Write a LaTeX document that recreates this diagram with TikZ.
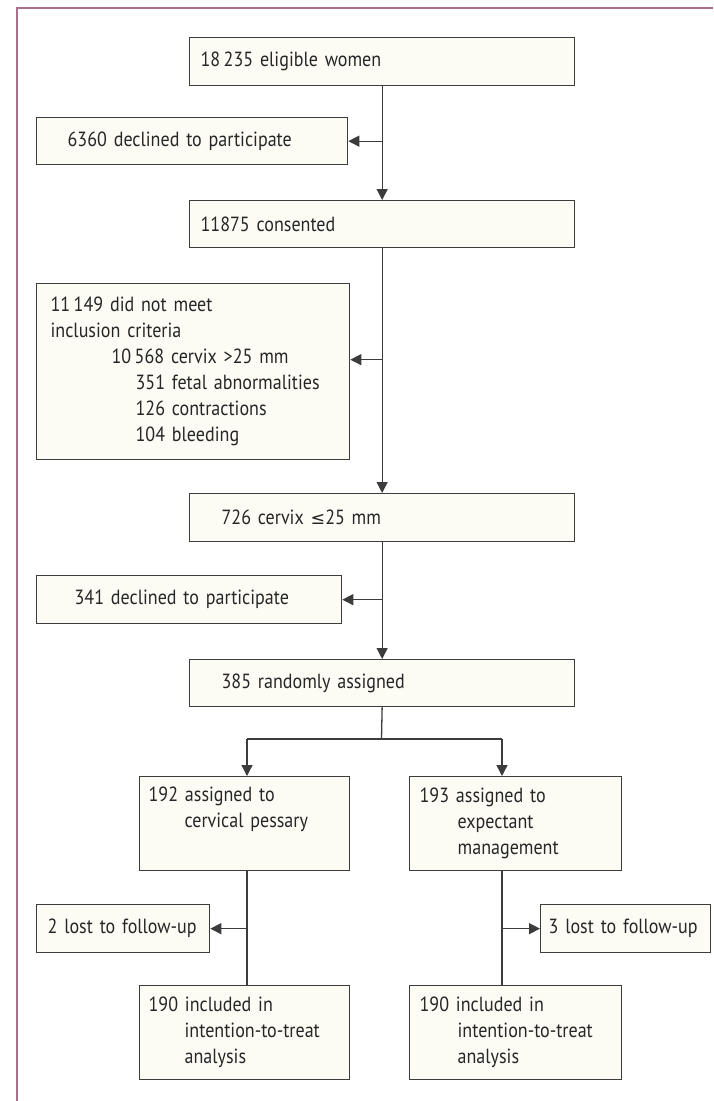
\documentclass[tikz,border=0pt]{standalone}
\usepackage{fontspec}
\setmainfont{PT Sans}[FakeStretch=0.88, WordSpace=0.75]
\newfontfamily\symfont{DejaVu Sans}[Scale=0.85]
\usetikzlibrary{arrows.meta}

\definecolor{framepink}{HTML}{A8708A}
\definecolor{boxline}{HTML}{3C3C3C}
\definecolor{boxfill}{HTML}{FCFCF4}

\tikzset{
  box/.style={draw=boxline, fill=boxfill, line width=1.3pt, anchor=north west,
              align=left, inner ysep=0pt, text=black!85, font=\fontsize{20.5}{26}\selectfont},
  flow/.style={draw=boxline, line width=1.3pt},
  arrow/.style={flow, -{Triangle[length=11pt,width=11pt]}},
}

\begin{document}
\begin{tikzpicture}[x=1pt, y=-1pt]

        \useasboundingbox (0,0) rectangle (713,1101);
        \fill[white] (0,0) rectangle (713,1101);

        % Page frame
        \draw[framepink, line width=2pt] (17,1101) -- (17,8) -- (713,8);

        % Define boxes
        \node[box, minimum height=48, text width=363, inner xsep=11] (eligible) at (189,37) {18\,235 eligible women};
        \node[box, minimum height=47, text width=249, inner xsep=31] (declined) at (36,117) {6360 declined to participate};
        \node[box, minimum height=47, text width=363, inner xsep=11] (consented) at (189,200) {11875 consented};
        \node[box, minimum height=176, text width=285, inner xsep=14] (excluded) at (36,283)
            {11\,149 did not meet\\inclusion criteria\\
             \hspace*{61pt}10\,568 cervix >25 mm\\
             \hspace*{85pt}351 fetal abnormalities\\
             \hspace*{85pt}126 contractions\\
             \hspace*{85pt}104 bleeding};
        \node[box, minimum height=48, text width=321, inner xsep=32] (cervix) at (189,493) {726 cervix {\symfont ≤}25 mm};
        \node[box, minimum height=48, text width=229, inner xsep=38] (declinedb) at (36,575) {341 declined to participate};
        \node[box, minimum height=47, text width=321, inner xsep=32] (random) at (189,659) {385 randomly assigned};
        \node[box, minimum height=94, text width=192, inner xsep=9] (pessary) at (139,776)
            {192 assigned to\\\hspace*{36pt}cervical pessary\\\strut};
        \node[box, minimum height=94, text width=192, inner xsep=10] (expectant) at (409,776)
            {193 assigned to\\\hspace*{38pt}expectant\\\hspace*{38pt}management};
        \node[box, minimum height=48, text width=151, inner xsep=11] (lostp) at (36,904) {2 lost to follow-up};
        \node[box, minimum height=48, text width=154, inner xsep=8] (loste) at (540,904) {3 lost to follow-up};
        \node[box, minimum height=94, text width=192, inner xsep=9] (ittp) at (139,985)
            {190 included in\\\hspace*{36pt}intention-to-treat\\\hspace*{36pt}analysis};
        \node[box, minimum height=94, text width=192, inner xsep=10] (itte) at (409,985)
            {190 included in\\\hspace*{38pt}intention-to-treat\\\hspace*{38pt}analysis};

        % Branch points
        \coordinate (exin) at ([yshift=12pt]excluded.east);
        \coordinate (split) at (381.5,739);
        \coordinate (armp) at (247,739);
        \coordinate (arme) at (502,739);

        % Draw connectors
        \draw[arrow] (eligible) -- (consented);
        \draw[arrow] (eligible.south |- declined.east) -- (declined.east);
        \draw[arrow] (consented) -- (cervix);
        \draw[arrow] (consented.south |- exin) -- (exin);
        \draw[arrow] (cervix) -- (random);
        \draw[arrow] (cervix.south |- declinedb.east) -- (declinedb.east);
        \draw[flow] (random.south) -- (split);
        \draw[flow] (armp) -- (arme);
        \draw[arrow] (armp) -- (armp |- pessary.north);
        \draw[arrow] (arme) -- (arme |- expectant.north);
        \draw[flow] (armp |- pessary.south) -- (armp |- ittp.north);
        \draw[flow] (arme |- expectant.south) -- (arme |- itte.north);
        \draw[arrow] (armp |- lostp.east) -- (lostp.east);
        \draw[arrow] (arme |- loste.west) -- (loste.west);

\end{tikzpicture}
\end{document}
